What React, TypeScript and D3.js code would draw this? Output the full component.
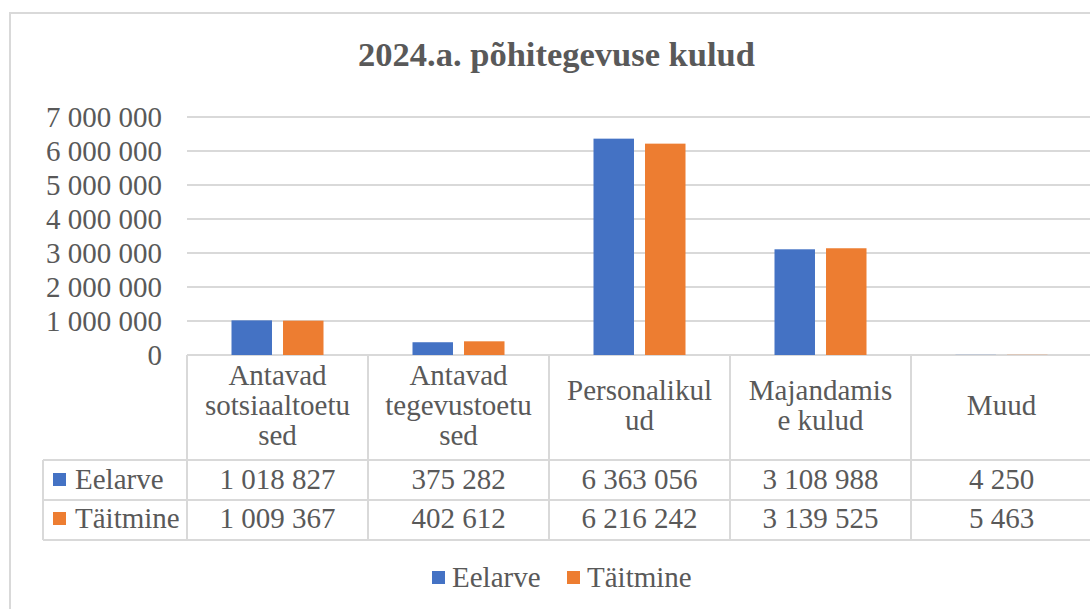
import React from "react";
import * as d3 from "d3";

const title = "2024.a. põhitegevuse kulud";
const categories = ["Antavad sotsiaaltoetused", "Antavad tegevustoetused", "Personalikulud", "Majandamise kulud", "Muud"];
const categoryLines = [
  ["Antavad", "sotsiaaltoetu", "sed"],
  ["Antavad", "tegevustoetu", "sed"],
  ["Personalikul", "ud"],
  ["Majandamis", "e kulud"],
  ["Muud"],
];
const seriesNames = ["Eelarve", "Täitmine"];
const eelarve = [1018827, 375282, 6363056, 3108988, 4250];
const taitmine = [1009367, 402612, 6216242, 3139525, 5463];
const yTicks = [0, 1000000, 2000000, 3000000, 4000000, 5000000, 6000000, 7000000];
const colors = ["#4472C4", "#ED7D31"];

const W = 1090;
const H = 609;
const FONT = "'Liberation Serif', 'Times New Roman', serif";
const TXT = "#595959";
const GRID = "#d9d9d9";

const fmt = d3.formatLocale({ thousands: " ", grouping: [3], decimal: ",", currency: ["", ""] }).format(",d");

export default function App() {
  const seriesValues = [eelarve, taitmine];
  const plotL = 187, plotR = 1092, plotT = 117, plotB = 355;
  const x = d3.scaleBand<number>().domain(d3.range(categories.length)).range([plotL, plotR]);
  const y = d3.scaleLinear().domain([0, 7000000]).range([plotB, plotT]);
  const cw = x.bandwidth();
  const x1 = d3.scaleBand<number>().domain([0, 1]).range([cw / 2 - 46, cw / 2 + 46]).paddingInner(0.214);

  const headerB = 460, row1B = 500, row2B = 540, tableL = 43;
  const fs = 29;

  return (
    <svg width={W} height={H} style={{ position: "absolute", left: 0, top: 0, display: "block", background: "#fff" }} fontFamily={FONT}>
      <rect x={10} y={13} width={W + 20} height={H + 20} fill="#fff" stroke={GRID} strokeWidth={2} />
      <text x={556.5} y={66} textAnchor="middle" fontWeight="bold" fontSize={34.5} fill={TXT}>{title}</text>

      {/* gridlines */}
      {yTicks.map((t) => (
        <line key={t} x1={plotL} x2={plotR} y1={y(t)} y2={y(t)} stroke={GRID} strokeWidth={2} />
      ))}
      {yTicks.map((t) => (
        <text key={"l" + t} x={162} y={y(t) + 10} textAnchor="end" fontSize={fs} fill={TXT}>{fmt(t)}</text>
      ))}

      {/* bars */}
      {categories.map((c, i) => (
        <g key={c} transform={`translate(${x(i)},0)`}>
          {seriesValues.map((vals, s) => (
            <rect key={s} x={x1(s)} width={x1.bandwidth()} y={y(vals[i])} height={plotB - y(vals[i])} fill={colors[s]} />
          ))}
        </g>
      ))}

      {/* data table */}
      <line x1={tableL} x2={plotR} y1={headerB} y2={headerB} stroke={GRID} strokeWidth={2} />
      <line x1={tableL} x2={plotR} y1={row1B} y2={row1B} stroke={GRID} strokeWidth={2} />
      <line x1={tableL} x2={plotR} y1={row2B} y2={row2B} stroke={GRID} strokeWidth={2} />
      <line x1={tableL} x2={tableL} y1={headerB} y2={row2B} stroke={GRID} strokeWidth={2} />
      {d3.range(categories.length).map((i) => (
        <line key={"v" + i} x1={x(i)!} x2={x(i)!} y1={plotB} y2={row2B} stroke={GRID} strokeWidth={2} />
      ))}
      {categoryLines.map((lines, i) => {
        const cx = x(i)! + cw / 2;
        const mid = 415;
        const start = mid - ((lines.length - 1) * 30) / 2;
        return (
          <text key={"c" + i} x={cx} textAnchor="middle" fontSize={fs} fill={TXT}>
            {lines.map((ln, k) => (
              <tspan key={k} x={cx} y={start + k * 30}>{ln}</tspan>
            ))}
          </text>
        );
      })}
      {seriesValues.map((vals, s) => {
        const base = s === 0 ? 489 : 528;
        return (
          <g key={"r" + s}>
            <rect x={53} y={base - 16} width={13} height={13} fill={colors[s]} />
            <text x={75} y={base} fontSize={fs} fill={TXT}>{seriesNames[s]}</text>
            {vals.map((v, i) => (
              <text key={i} x={x(i)! + cw / 2} y={base} textAnchor="middle" fontSize={fs} fill={TXT}>{fmt(v)}</text>
            ))}
          </g>
        );
      })}

      {/* legend */}
      <rect x={432} y={571} width={13} height={13} fill={colors[0]} />
      <text x={452} y={587} fontSize={fs} fill={TXT}>{seriesNames[0]}</text>
      <rect x={567} y={571} width={13} height={13} fill={colors[1]} />
      <text x={587} y={587} fontSize={fs} fill={TXT}>{seriesNames[1]}</text>
    </svg>
  );
}
